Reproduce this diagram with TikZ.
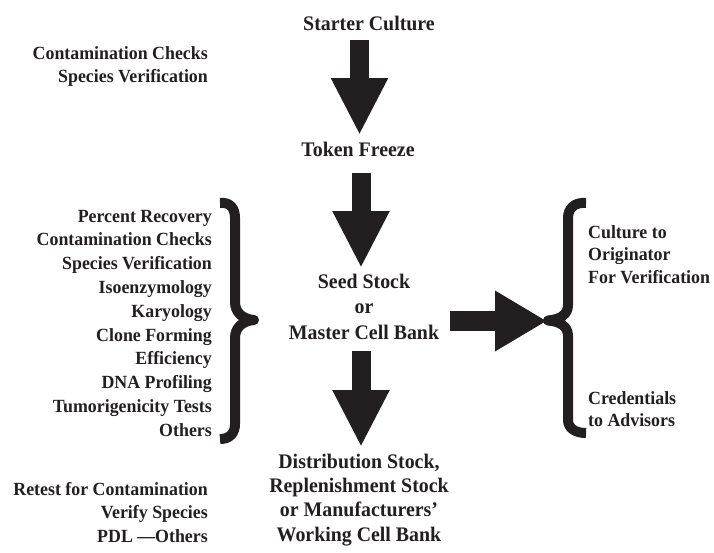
\documentclass[tikz,border=0pt]{standalone}
\usepackage{fontspec}
\setmainfont{Liberation Serif}[FakeStretch=0.96]
\usepackage{tikz}
\usetikzlibrary{arrows.meta}
\definecolor{ink}{RGB}{35,31,32}

\begin{document}
\begin{tikzpicture}[
  x=1pt, y=-1pt,
  mainlbl/.style={font=\bfseries\fontsize{20.7}{24.4}\selectfont, inner sep=0pt, align=center, text=ink},
  sidelbl/.style={font=\bfseries\fontsize{18.6}{23.8}\selectfont, inner sep=0pt, align=right, text=ink},
  sidelblr/.style={font=\bfseries\fontsize{18.6}{22.5}\selectfont, inner sep=0pt, align=left, text=ink},
  downarrow/.style={draw=ink, line width=19pt, -{Triangle[length=57pt,width=53pt]}},
  rightarrow/.style={draw=ink, line width=20pt, -{Triangle[length=52pt,width=57pt]}},
  bracepath/.style={draw=ink, line width=10pt, line join=round}
]
\useasboundingbox (0,0) rectangle (714,552);

\node[mainlbl, anchor=base] (starter) at (369,30) {Starter Culture};
\node[sidelbl, anchor=base east] (checks) at (208,82.8) {Contamination Checks\\Species Verification};
\node[mainlbl, anchor=base] (token) at (358,156) {Token Freeze};
\node[sidelbl, anchor=base east] (tests) at (212,436.2) {Percent Recovery\\Contamination Checks\\Species Verification\\Isoenzymology\\Karyology\\Clone Forming\\Efficiency\\DNA Profiling\\Tumorigenicity Tests\\Others};
\node[mainlbl, font=\bfseries\fontsize{20.7}{25.6}\selectfont, anchor=base] (seed) at (364,339.2) {Seed Stock\\or\\Master Cell Bank};
\node[sidelblr, anchor=base west] (origin) at (588,283) {Culture to\\Originator\\For Verification};
\node[sidelblr, anchor=base west] (advisors) at (588,426.5) {Credentials\\to Advisors};
\node[mainlbl, anchor=base] (dist) at (359,541.2) {Distribution Stock,\\Replenishment Stock\\or Manufacturers'\\Working Cell Bank};
\node[sidelbl, anchor=base east] (retest) at (208,542.6) {Retest for Contamination\\Verify Species\\PDL —Others};

\coordinate (starterout) at (359.5,40);
\coordinate (tokenin) at (359.5,135);
\coordinate (tokenout) at (361,173);
\coordinate (seedin) at (361,268);
\coordinate (seedout) at (361,351);
\coordinate (distin) at (361,447);
\coordinate (sideout) at (450,321);
\coordinate (sidein) at (547,321);

\draw[downarrow] (starterout) -- (tokenin);
\draw[downarrow] (tokenout) -- (seedin);
\draw[downarrow] (seedout) -- (distin);
\draw[rightarrow] (sideout) -- (sidein);

\draw[bracepath] (220,203) .. controls (230,202) and (235,208) .. (235,218) -- (235,302)
  .. controls (235,312) and (242,319) .. (254,320)
  .. controls (242,321) and (235,328) .. (235,338) -- (235,424)
  .. controls (235,433) and (230,439) .. (220,439);
\draw[bracepath] (586,203) .. controls (575,202) and (568,208) .. (568,218) -- (568,305)
  .. controls (568,314) and (561,319.5) .. (548,320.5)
  .. controls (561,321.5) and (568,327) .. (568,336) -- (568,420)
  .. controls (568,428) and (575,433) .. (586,433);
\end{tikzpicture}
\end{document}
